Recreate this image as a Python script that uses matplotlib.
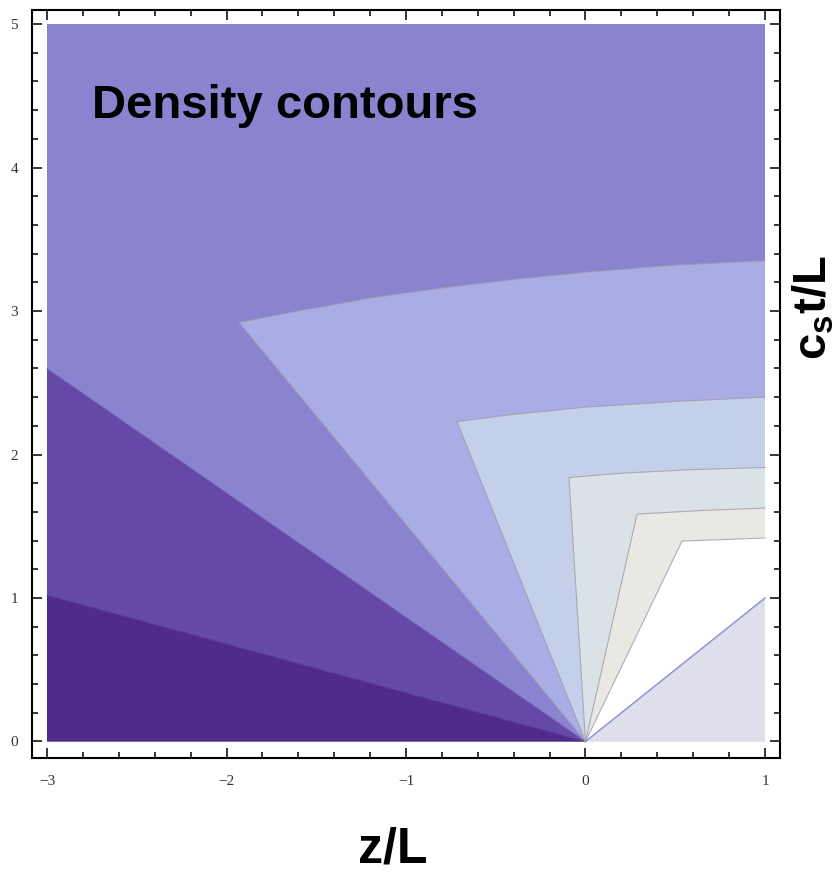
import matplotlib
matplotlib.use("Agg")
import matplotlib.pyplot as plt
import numpy as np

# ---------------- data ----------------
# fan boundaries that reach the left edge z/L = -3 (height c_s t/L there)
left_edge_t = [1.02, 2.60]
# inner regions: top boundary points (z/L, c_s t/L), from the fan vertex to z/L = 1
periwinkle_z = [-1.93, -1.6, -1.2, -0.8, -0.4, 0.0, 0.5, 1.0]
periwinkle_t = [2.92, 3.00, 3.09, 3.16, 3.22, 3.27, 3.32, 3.35]
lightblue_z = [-0.716, -0.4, 0.0, 0.5, 1.0]
lightblue_t = [2.23, 2.28, 2.33, 2.37, 2.40]
palegray_z = [-0.092, 0.2, 0.6, 1.0]
palegray_t = [1.84, 1.87, 1.895, 1.91]
beige_z = [0.287, 0.65, 1.0]
beige_t = [1.585, 1.61, 1.627]
white_z = [0.538, 1.0]
white_t = [1.397, 1.418]
# undisturbed region below the line c_s t = z
front_t_at_right = 1.0

x_ticks = [-3, -2, -1, 0, 1]
x_labels = ["\u22123", "\u22122", "\u22121", "0", "1"]
y_ticks = [0, 1, 2, 3, 4, 5]
y_labels = ["0", "1", "2", "3", "4", "5"]

c_main = "#8a83d0"
c_mid = "#6549a6"
c_dark = "#512b8c"
c_peri = "#a9ace5"
c_lblue = "#c4cfea"
c_pgray = "#dae2e8"
c_beige = "#e9e8e3"
c_white = "#ffffff"
c_lav = "#dfdfec"

plt.rcParams["mathtext.fontset"] = "custom"
plt.rcParams["mathtext.rm"] = "Liberation Sans:bold"
plt.rcParams["mathtext.it"] = "Liberation Sans:bold"
plt.rcParams["mathtext.bf"] = "Liberation Sans:bold"

fig = plt.figure(figsize=(8.39, 8.72), dpi=100)
ax = fig.add_axes([32 / 839, 1 - 758 / 872, 748 / 839, 748 / 872])
ax.set_xlim(-3.0836, 1.0836)
ax.set_ylim(-0.115, 5.098)

zmin, zmax, tmax = x_ticks[0], x_ticks[-1], y_ticks[-1]

# whole data area
ax.fill([zmin, zmax, zmax, zmin], [0, 0, tmax, tmax], color=c_main, lw=0)
# fans reaching left edge
for t_left, col, lc in [(left_edge_t[1], c_mid, "#7a68b8"), (left_edge_t[0], c_dark, "#5e3e9a")]:
    ax.fill([0, zmin, zmin], [0, t_left, 0], facecolor=col, lw=0)
    ax.plot([0, zmin], [0, t_left], color=lc, lw=0.6)

# nested inner regions
for zs, ts, col in [
    (periwinkle_z, periwinkle_t, c_peri),
    (lightblue_z, lightblue_t, c_lblue),
    (palegray_z, palegray_t, c_pgray),
    (beige_z, beige_t, c_beige),
    (white_z, white_t, c_white),
]:
    px = [0] + list(zs) + [zmax]
    py = [0] + list(ts) + [0]
    ax.fill(px, py, facecolor=col, lw=0)
    ax.plot([0] + list(zs), [0] + list(ts), color="#9d9da8", lw=0.8, alpha=0.8,
            solid_joinstyle="round")

# undisturbed region
ax.fill([0, zmax, zmax], [0, front_t_at_right, 0], facecolor=c_lav, lw=0)
ax.plot([0, zmax], [0, front_t_at_right], color="#8e95d6", lw=1.1)

# ticks
ax.set_xticks(x_ticks)
ax.set_xticklabels(x_labels)
ax.set_yticks(y_ticks)
ax.set_yticklabels(y_labels)
ax.set_xticks(np.arange(zmin, zmax + 0.001, 0.2), minor=True)
ax.set_yticks(np.arange(0, tmax + 0.001, 0.2), minor=True)
ax.tick_params(which="both", direction="in", top=True, right=True,
               labeltop=False, labelright=False, width=1.1, color="black")
ax.tick_params(which="major", length=7.2)
ax.tick_params(which="minor", length=4.3)
ax.tick_params(axis="x", which="major", pad=12)
ax.tick_params(axis="y", which="major", pad=10)
for lab in ax.get_xticklabels() + ax.get_yticklabels():
    lab.set_fontfamily("Liberation Serif")
    lab.set_fontsize(11)
    lab.set_color("#333333")
for s in ax.spines.values():
    s.set_linewidth(1.5)

# texts
fig.text(92 / 839, 1 - 118 / 872, "Density contours", fontfamily="Liberation Sans",
         fontweight="bold", fontsize=34, ha="left", va="baseline", color="black")
fig.text(393 / 839, 1 - 862 / 872, "z/L", fontfamily="Liberation Sans",
         fontweight="bold", fontsize=36, ha="center", va="baseline", color="black")
fig.text(827 / 839, 1 - 308 / 872, r"$\mathrm{c_s t/L}$", fontsize=34, rotation=90,
         rotation_mode="anchor", ha="center", va="baseline", color="black")

fig.savefig("out.png", dpi=100)
